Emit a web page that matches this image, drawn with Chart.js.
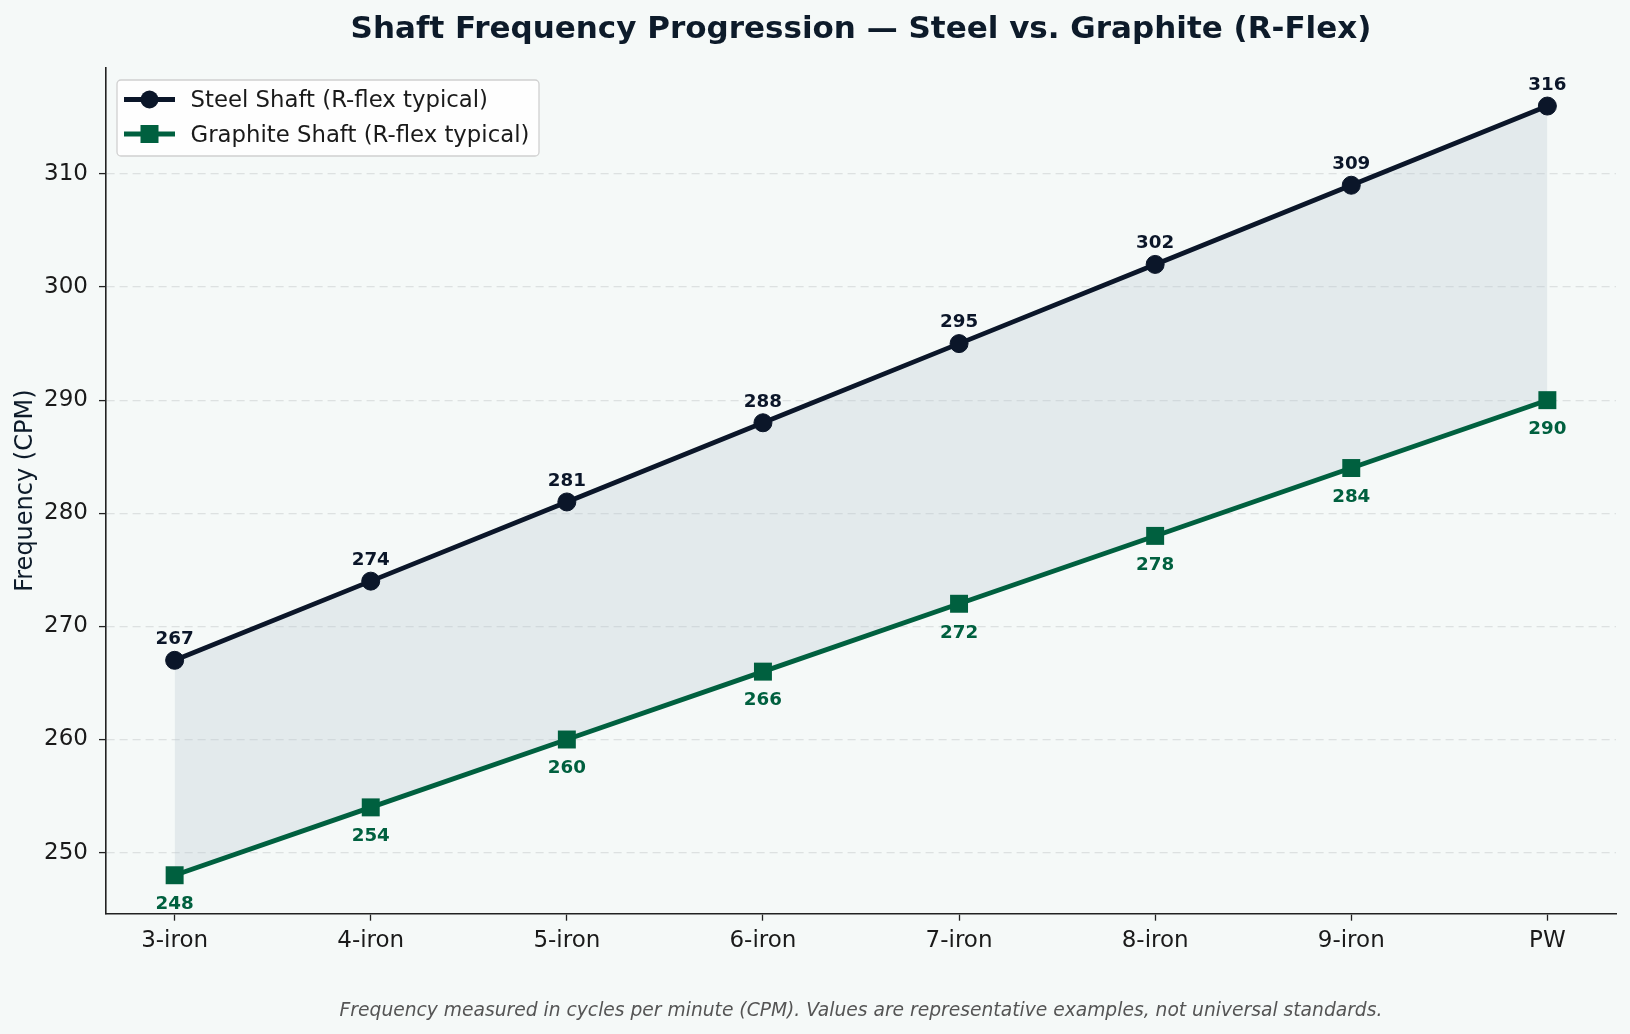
<!DOCTYPE html>
<html>
<head>
<meta charset="utf-8">
<script src="https://cdn.jsdelivr.net/npm/chart.js@4.4.1/dist/chart.umd.min.js"></script>
<style>
  body { margin: 0; background: #f5f9f8; }
  #wrap { width: 1630px; height: 1034px; }
</style>
</head>
<body>
<div id="wrap"><canvas id="chart" width="1630" height="1034"></canvas></div>
<script>
const clubs = ["3-iron", "4-iron", "5-iron", "6-iron", "7-iron", "8-iron", "9-iron", "PW"];
const steelCpm = [267, 274, 281, 288, 295, 302, 309, 316];
const graphiteCpm = [248, 254, 260, 266, 272, 278, 284, 290];
const yTickValues = [250, 260, 270, 280, 290, 300, 310];

const steelColor = "#0b1629";
const graphiteColor = "#00603f";
const font = "'DejaVu Sans', sans-serif";

// matplotlib-style 5% margins around the data
const xMin = -0.35, xMax = clubs.length - 1 + 0.35;
const yMin = 244.6, yMax = 319.4;

const toPoints = arr => arr.map((v, i) => ({ x: i, y: v }));

// title, footnote, axis label, value labels and legend
const decorations = {
  id: "decorations",
  beforeDraw(chart) {
    const ctx = chart.ctx;
    ctx.save();
    ctx.fillStyle = "#f5f9f8";
    ctx.fillRect(0, 0, chart.width, chart.height);
    ctx.restore();
  },
  afterDraw(chart) {
    const ctx = chart.ctx;
    const area = chart.chartArea;
    const cx = (area.left + area.right) / 2;
    ctx.save();

    // title
    ctx.fillStyle = "#0d1b2a";
    ctx.font = "bold 31px " + font;
    ctx.textAlign = "center";
    ctx.textBaseline = "middle";
    ctx.fillText("Shaft Frequency Progression \u2014 Steel vs. Graphite (R-Flex)", cx, 30);

    // footnote
    ctx.fillStyle = "#555555";
    ctx.font = "italic 18.7px " + font;
    ctx.fillText("Frequency measured in cycles per minute (CPM). Values are representative examples, not universal standards.", cx, 1011);

    // y axis label
    ctx.save();
    ctx.translate(26, (area.top + area.bottom) / 2);
    ctx.rotate(-Math.PI / 2);
    ctx.fillStyle = "#0d1b2a";
    ctx.font = "24px " + font;
    ctx.fillText("Frequency (CPM)", 0, 0);
    ctx.restore();

    // value labels
    ctx.font = "bold 18.3px " + font;
    chart.getDatasetMeta(0).data.forEach((p, i) => {
      ctx.fillStyle = steelColor;
      ctx.fillText(String(steelCpm[i]), p.x, p.y - 21);
    });
    chart.getDatasetMeta(1).data.forEach((p, i) => {
      ctx.fillStyle = graphiteColor;
      ctx.fillText(String(graphiteCpm[i]), p.x, p.y + 29);
    });

    // legend
    const lx = 117, ly = 80, lw = 422, lh = 76;
    ctx.fillStyle = "rgba(255,255,255,0.85)";
    ctx.strokeStyle = "#d0d0d0";
    ctx.lineWidth = 1.3;
    ctx.beginPath();
    ctx.roundRect(lx, ly, lw, lh, 4);
    ctx.fill();
    ctx.stroke();

    const rows = [
      { label: "Steel Shaft (R-flex typical)", color: steelColor, y: 99.5, shape: "circle" },
      { label: "Graphite Shaft (R-flex typical)", color: graphiteColor, y: 134, shape: "square" }
    ];
    rows.forEach(r => {
      ctx.strokeStyle = r.color;
      ctx.lineWidth = 4.8;
      ctx.beginPath();
      ctx.moveTo(124, r.y);
      ctx.lineTo(175, r.y);
      ctx.stroke();
      ctx.fillStyle = r.color;
      if (r.shape === "circle") {
        ctx.beginPath();
        ctx.arc(149.5, r.y, 9, 0, Math.PI * 2);
        ctx.fill();
      } else {
        ctx.fillRect(149.5 - 9, r.y - 9, 18, 18);
      }
      ctx.fillStyle = "#1a1a1a";
      ctx.font = "22.8px " + font;
      ctx.textAlign = "left";
      ctx.fillText(r.label, 190.5, r.y + 2);
    });

    ctx.restore();
  }
};

new Chart(document.getElementById("chart"), {
  type: "line",
  data: {
    datasets: [
      {
        label: "Steel Shaft (R-flex typical)",
        data: toPoints(steelCpm),
        borderColor: steelColor,
        backgroundColor: "rgba(185,199,208,0.3)",
        borderWidth: 4.8,
        pointStyle: "circle",
        pointRadius: 9,
        pointBackgroundColor: steelColor,
        pointBorderColor: steelColor,
        pointBorderWidth: 1,
        fill: { target: "+1" },
        tension: 0,
        clip: false
      },
      {
        label: "Graphite Shaft (R-flex typical)",
        data: toPoints(graphiteCpm),
        borderColor: graphiteColor,
        backgroundColor: graphiteColor,
        borderWidth: 4.8,
        pointStyle: "rect",
        pointRadius: 12.7,
        pointBackgroundColor: graphiteColor,
        pointBorderColor: graphiteColor,
        pointBorderWidth: 0,
        fill: false,
        tension: 0,
        clip: false
      }
    ]
  },
  options: {
    responsive: false,
    animation: false,
    layout: { padding: { left: 0, right: 14, top: 67.6, bottom: 0 } },
    plugins: {
      legend: { display: false },
      title: { display: false },
      tooltip: { enabled: false },
      filler: { propagate: false, drawTime: "beforeDatasetsDraw" }
    },
    scales: {
      x: {
        type: "linear",
        min: xMin,
        max: xMax,
        afterBuildTicks: s => { s.ticks = clubs.map((_, i) => ({ value: i })); },
        afterFit: s => { s.height = 1034 - 913.7; },
        ticks: {
          callback: v => clubs[v],
          color: "#1a1a1a",
          font: { family: font, size: 23 },
          padding: 7,
          maxRotation: 0,
          autoSkip: false
        },
        grid: {
          color: "rgba(0,0,0,0)",
          tickColor: "#222222",
          tickLength: 7,
          tickWidth: 1.3,
          tickBorderDash: []
        },
        border: { display: true, color: "#222222", width: 1.6 }
      },
      y: {
        type: "linear",
        min: yMin,
        max: yMax,
        afterBuildTicks: s => { s.ticks = yTickValues.map(v => ({ value: v })); },
        afterFit: s => { s.width = 106; },
        ticks: {
          color: "#1a1a1a",
          font: { family: font, size: 23 },
          padding: 11
        },
        grid: {
          color: "rgba(200,205,205,0.55)",
          lineWidth: 1.2,
          tickColor: "#222222",
          tickLength: 7,
          tickWidth: 1.3,
          tickBorderDash: []
        },
        border: { display: true, color: "#222222", width: 1.6, dash: [8, 5] }
      }
    }
  },
  plugins: [decorations]
});
</script>
</body>
</html>
